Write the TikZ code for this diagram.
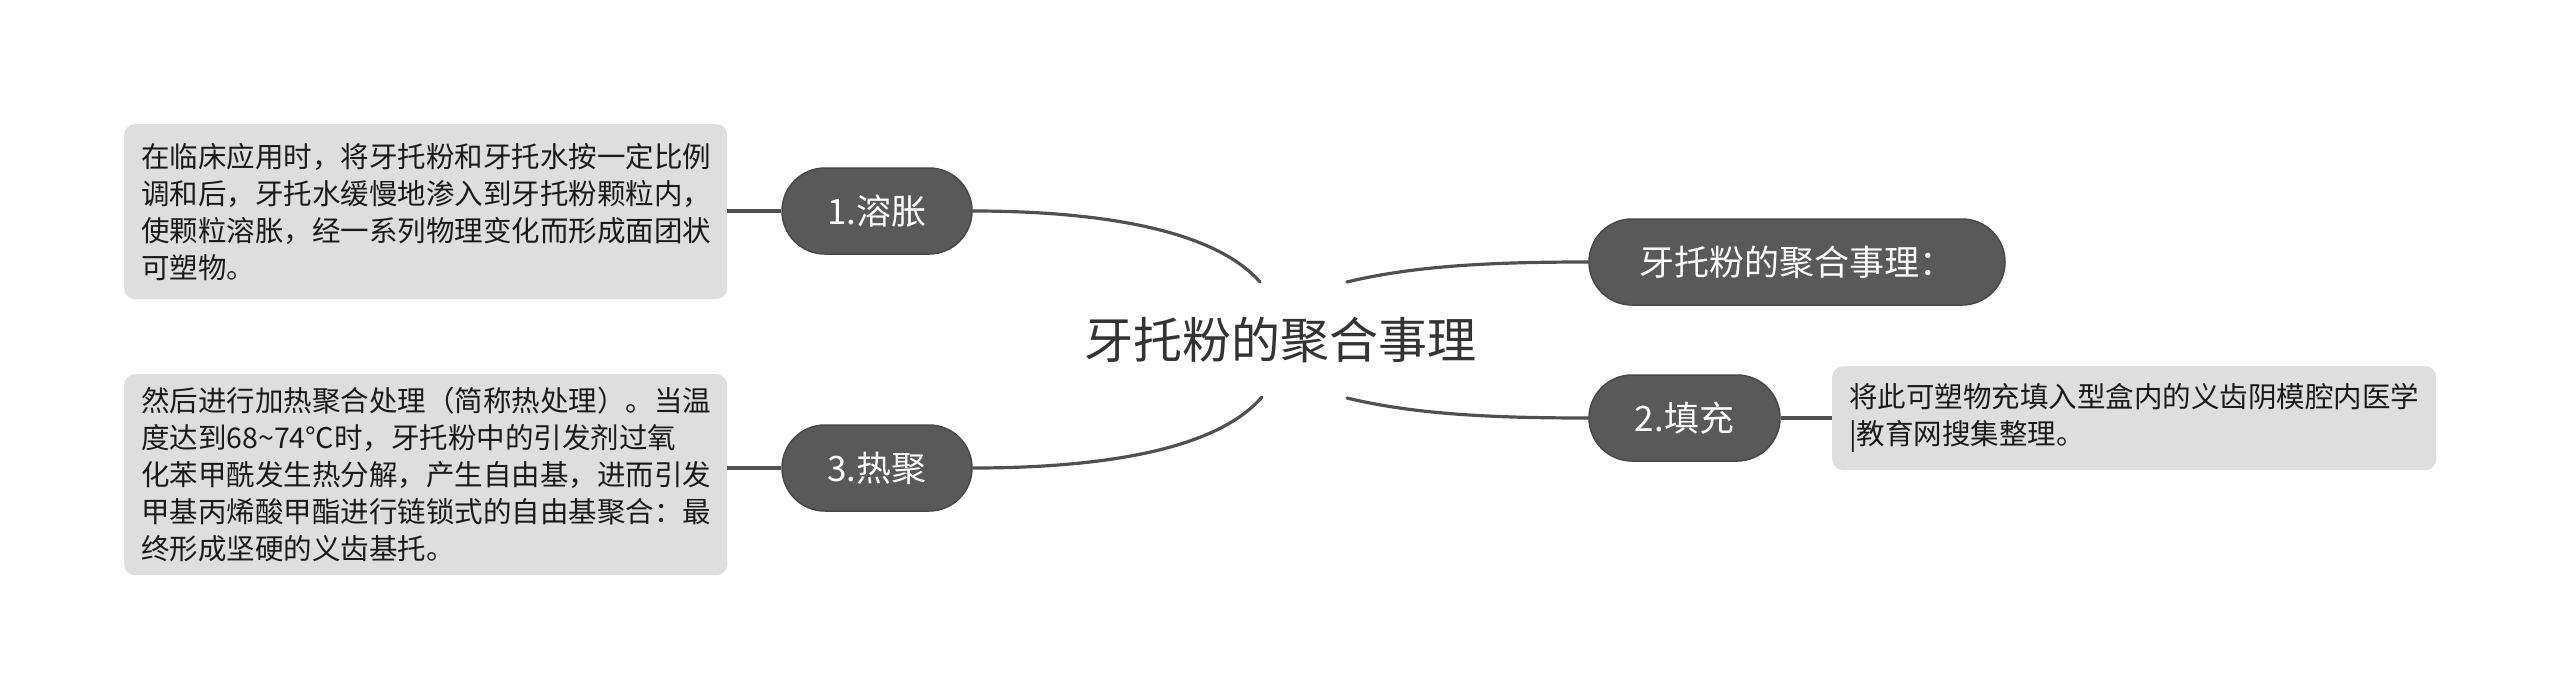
\documentclass[tikz,border=0pt]{standalone}
\usepackage{fontspec}
\setmainfont{Noto Sans CJK SC}
\usetikzlibrary{shapes.misc}
\definecolor{nodegray}{HTML}{595959}
\definecolor{nodeborder}{HTML}{484848}
\definecolor{boxgray}{HTML}{DEDEDE}
\definecolor{linegray}{HTML}{505050}
\definecolor{centertext}{HTML}{333333}
\definecolor{boxtext}{HTML}{1A1A1A}
\begin{document}
\begin{tikzpicture}[x=1pt,y=-1pt,
  mnode/.style={rounded rectangle, fill=nodegray, draw=nodeborder, line width=1.5pt,
    text=white, inner xsep=0pt, inner ysep=0pt, minimum height=86pt,
    font=\fontsize{35}{40}\selectfont},
  tbox/.style={rectangle, rounded corners=11pt, fill=boxgray, anchor=north west,
    inner xsep=17pt, inner ysep=0pt, align=left, text=boxtext,
    font=\fontsize{28.5}{37}\selectfont},
  conn/.style={draw=linegray, line width=3.5pt},
  curveconn/.style={draw=linegray, line width=3.2pt, line cap=round}
]
\useasboundingbox[fill=white] (0,0) rectangle (2560,699);

% center
\node[text=centertext, font=\fontsize{49}{55}\selectfont, inner sep=0pt] (c) at (1280,340) {牙托粉的聚合事理};
\coordinate (cLT) at (1260,282);
\coordinate (cLB) at (1262,397);
\coordinate (cRT) at (1347,282);
\coordinate (cRB) at (1347,398);

% main topics
\node[mnode, minimum width=190pt] (n1) at (877,211) {1.溶胀};
\node[mnode, minimum width=190pt] (n3) at (877,468) {3.热聚};
\node[mnode, minimum width=416pt] (n0) at (1797,262) {牙托粉的聚合事理：};
\node[mnode, minimum width=191pt] (n2) at (1684.5,418) {2.填充};

% text boxes
\node[tbox, minimum width=603pt, minimum height=175pt, text width=569pt] (b1) at (124,124)
  {在临床应用时，将牙托粉和牙托水按一定比例\\调和后，牙托水缓慢地渗入到牙托粉颗粒内，\\使颗粒溶胀，经一系列物理变化而形成面团状\\可塑物。};
\node[tbox, minimum width=603pt, minimum height=201pt, text width=569pt] (b3) at (124,374)
  {然后进行加热聚合处理（简称热处理）。当温\\度达到68\textasciitilde74℃时，牙托粉中的引发剂过氧\\化苯甲酰发生热分解，产生自由基，进而引发\\甲基丙烯酸甲酯进行链锁式的自由基聚合：最\\终形成坚硬的义齿基托。};
\node[tbox, minimum width=604pt, minimum height=104pt, text width=570pt] (b4) at (1832,366)
  {将此可塑物充填入型盒内的义齿阴模腔内医学\\|教育网搜集整理。};

% connectors
\draw[curveconn] (cLT) .. controls +(-50,-57) and +(110,0) .. (n1.east);
\draw[curveconn] (cLB) .. controls +(-50,58) and +(110,0) .. (n3.east);
\draw[curveconn] (cRT) .. controls +(70,-17) and +(-90,0) .. (n0.west);
\draw[curveconn] (cRB) .. controls +(70,17) and +(-90,0) .. (n2.west);

\draw[conn] (b1.east |- n1.west) -- (n1.west);
\draw[conn] (b3.east |- n3.west) -- (n3.west);
\draw[conn] (n2.east) -- (b4.west |- n2.east);
\end{tikzpicture}
\end{document}
